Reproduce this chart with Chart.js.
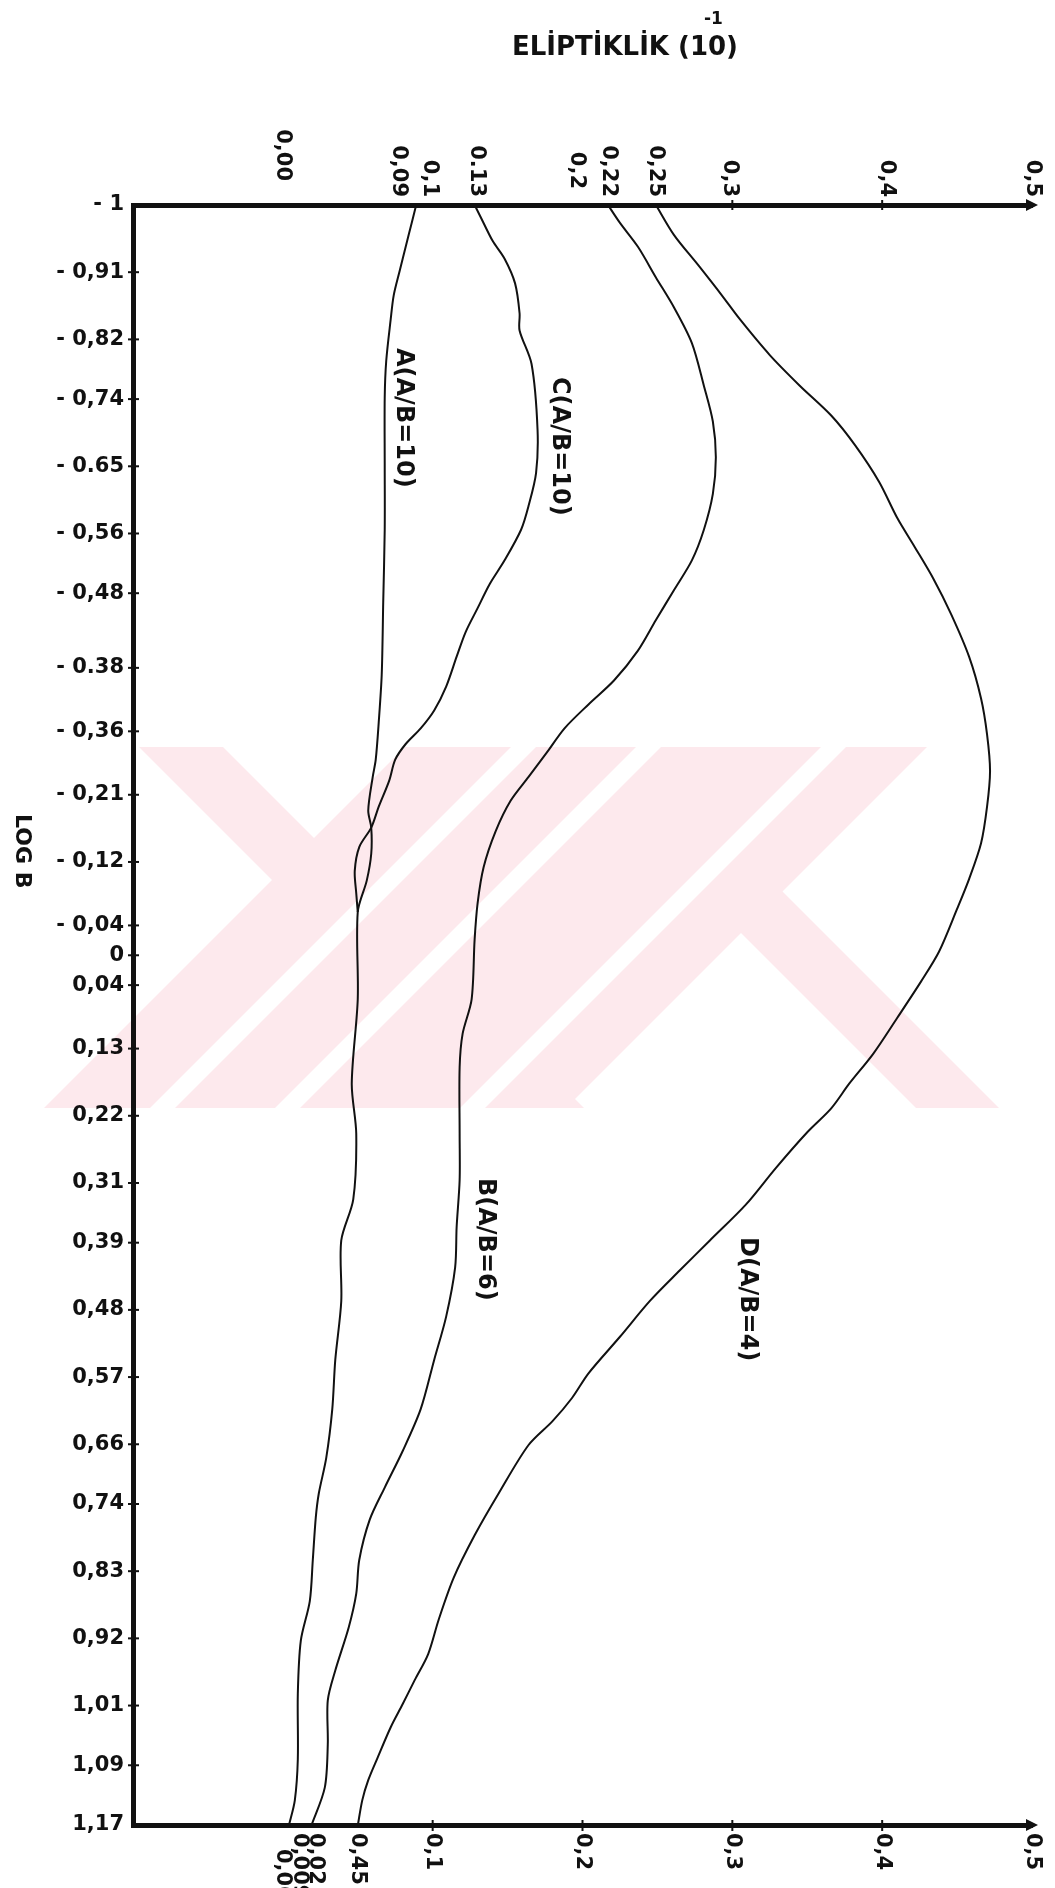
<!DOCTYPE html>
<html>
<head>
<meta charset="utf-8">
<script src="https://cdn.jsdelivr.net/npm/chart.js@4.4.0/dist/chart.umd.min.js"></script>
<style>
    html, body { margin: 0; padding: 0; background: #fff; }
</style>
</head>
<body>
<canvas id="elipChart" width="1055" height="1888"></canvas>
<script>
const logBTicks = [-1, -0.91, -0.82, -0.74, -0.65, -0.56, -0.48, -0.38, -0.295, -0.21, -0.12, -0.035, 0.005, 0.045,
    0.13, 0.22, 0.31, 0.39, 0.48, 0.57, 0.66, 0.74, 0.83, 0.92, 1.01, 1.09, 1.17];
const logBLabels = ['- 1', '- 0,91', '- 0,82', '- 0,74', '- 0.65', '- 0,56', '- 0,48', '- 0.38', '- 0,36', '- 0,21', '- 0,12', '- 0,04', '0', '0,04',
    '0,13', '0,22', '0,31', '0,39', '0,48', '0,57', '0,66', '0,74', '0,83', '0,92', '1,01', '1,09', '1,17'];

// ellipticity axis (top and bottom)
const topTicks = [0, 0.077, 0.098, 0.129, 0.196, 0.217, 0.249, 0.298, 0.403, 0.5];
const topLabels = ['0,00', '0,09', '0,1', '0.13', '0,2', '0,22', '0,25', '0,3', '0,4', '0,5'];
const bottomTicks = [0, 0.011, 0.022, 0.05, 0.1, 0.2, 0.3, 0.4, 0.5];
const bottomLabels = ['0,00', '0,009', '0,02', '0,45', '0,1', '0,2', '0,3', '0,4', '0,5'];

// curve A (A/B=10)
const aLogB = [-1.0, -0.976, -0.944, -0.912, -0.879, -0.847, -0.791, -0.742, -0.653, -0.565, -0.468, -0.371, -0.307, -0.257,
    -0.234, -0.189, -0.166, -0.131, -0.095, -0.053, 0.064, 0.177, 0.244, 0.332, 0.387, 0.468, 0.547, 0.613, 0.678, 0.726,
    0.758, 0.815, 0.870, 0.923, 0.994, 1.082, 1.137, 1.171];
const aElip = [0.089, 0.086, 0.082, 0.078, 0.074, 0.072, 0.069, 0.068, 0.068, 0.068, 0.067, 0.066, 0.064, 0.062,
    0.060, 0.057, 0.059, 0.059, 0.056, 0.050, 0.050, 0.046, 0.049, 0.047, 0.039, 0.039, 0.035, 0.033, 0.029, 0.024,
    0.022, 0.020, 0.018, 0.012, 0.010, 0.010, 0.008, 0.004];

// curve C (A/B=10), joins A near log B = -0.05
const cLogB = [-1.0, -0.984, -0.952, -0.928, -0.895, -0.855, -0.832, -0.787, -0.699, -0.641, -0.597, -0.565, -0.524, -0.492,
    -0.460, -0.428, -0.395, -0.355, -0.323, -0.299, -0.278, -0.257, -0.229, -0.194, -0.166, -0.140, -0.108, -0.078, -0.053];
const cElip = [0.128, 0.132, 0.140, 0.148, 0.155, 0.158, 0.158, 0.166, 0.170, 0.169, 0.164, 0.159, 0.148, 0.138,
    0.130, 0.122, 0.116, 0.109, 0.101, 0.092, 0.082, 0.075, 0.071, 0.064, 0.059, 0.051, 0.048, 0.049, 0.050];

// curve B (A/B=6)
const bLogB = [-1.0, -0.976, -0.944, -0.903, -0.863, -0.815, -0.758, -0.710, -0.662, -0.613, -0.565, -0.524, -0.484, -0.444,
    -0.403, -0.363, -0.331, -0.299, -0.266, -0.234, -0.202, -0.161, -0.113, -0.065, -0.016, 0.064, 0.110, 0.155, 0.244,
    0.306, 0.369, 0.423, 0.489, 0.547, 0.613, 0.669, 0.718, 0.761, 0.815, 0.860, 0.905, 0.963, 1.003, 1.062, 1.120, 1.171];
const bElip = [0.217, 0.225, 0.237, 0.249, 0.261, 0.273, 0.281, 0.287, 0.289, 0.287, 0.281, 0.273, 0.261, 0.249,
    0.237, 0.221, 0.204, 0.188, 0.176, 0.164, 0.152, 0.142, 0.134, 0.130, 0.128, 0.126, 0.120, 0.118, 0.118,
    0.118, 0.116, 0.115, 0.109, 0.101, 0.092, 0.080, 0.068, 0.058, 0.051, 0.049, 0.044, 0.035, 0.030, 0.030, 0.028, 0.019];

// curve D (A/B=4)
const dLogB = [-1.0, -0.960, -0.920, -0.879, -0.847, -0.799, -0.758, -0.718, -0.678, -0.629, -0.581, -0.541, -0.500, -0.452,
    -0.395, -0.339, -0.291, -0.242, -0.194, -0.145, -0.097, -0.057, 0.0, 0.040, 0.089, 0.137, 0.177, 0.210, 0.242, 0.290,
    0.339, 0.387, 0.427, 0.468, 0.516, 0.565, 0.598, 0.629, 0.661, 0.726, 0.782, 0.839, 0.895, 0.941, 0.976, 1.008,
    1.039, 1.081, 1.110, 1.137, 1.171];
const dElip = [0.249, 0.261, 0.277, 0.293, 0.305, 0.325, 0.345, 0.366, 0.382, 0.398, 0.410, 0.422, 0.434, 0.446,
    0.458, 0.466, 0.470, 0.472, 0.470, 0.466, 0.458, 0.450, 0.438, 0.426, 0.410, 0.394, 0.378, 0.366, 0.350, 0.329,
    0.309, 0.285, 0.265, 0.245, 0.225, 0.204, 0.193, 0.180, 0.164, 0.144, 0.128, 0.114, 0.104, 0.097, 0.088, 0.080,
    0.072, 0.063, 0.057, 0.053, 0.050];

const curveLabels = ['A(A/B=10)', 'C(A/B=10)', 'B(A/B=6)', 'D(A/B=4)'];

const INK = '#111';
const FONT = '"DejaVu Sans", sans-serif';

function toPoints(elip, logB) {
    return elip.map((e, i) => ({ x: e, y: logB[i] }));
}

function curve(label, elip, logB) {
    return {
        label: label,
        data: toPoints(elip, logB),
        showLine: true,
        borderColor: INK,
        borderWidth: 2,
        pointRadius: 0,
        tension: 0.3,
        fill: false
    };
}

// rotated (clockwise) text helper
function vText(ctx, text, x, y, align) {
    ctx.save();
    ctx.translate(x, y);
    ctx.rotate(Math.PI / 2);
    ctx.textAlign = align;
    ctx.textBaseline = 'middle';
    ctx.fillText(text, 0, 0);
    ctx.restore();
}

// faint pink watermark behind the figure (diagonal bands, 45 degrees)
function band(ctx, x0, x1, dir, y0, y1) {
    const shift = dir * (y1 - y0);
    ctx.beginPath();
    ctx.moveTo(x0, y0);
    ctx.lineTo(x1, y0);
    ctx.lineTo(x1 + shift, y1);
    ctx.lineTo(x0 + shift, y1);
    ctx.closePath();
    ctx.fill();
}

function drawWatermark(ctx) {
    const y0 = 747, y1 = 1108;
    ctx.save();
    ctx.fillStyle = '#fde9ed';
    band(ctx, 405, 927, -1, y0, y1);
    band(ctx, 139, 223, 1, y0, y1);
    band(ctx, 555, 638, 1, y0, y1);
    ctx.fillStyle = '#ffffff';
    band(ctx, 511, 536, -1, y0, y1);
    band(ctx, 636, 661, -1, y0, y1);
    band(ctx, 821, 846, -1, y0, y1);
    ctx.restore();
}

const figurePlugin = {
    id: 'figure',
    beforeDraw(chart) {
        drawWatermark(chart.ctx);
    },
    afterDraw(chart) {
        const ctx = chart.ctx;
        const area = chart.chartArea;
        const xs = chart.scales.x;
        const ys = chart.scales.y;
        ctx.save();
        ctx.fillStyle = INK;
        ctx.strokeStyle = INK;

        // title
        ctx.font = 'bold 26px ' + FONT;
        ctx.textAlign = 'left';
        ctx.textBaseline = 'alphabetic';
        ctx.fillText('ELİPTİKLİK (10)', 512, 55);
        ctx.font = 'bold 17px ' + FONT;
        ctx.fillText('-1', 704, 24);

        // y axis title
        ctx.font = 'bold 22px ' + FONT;
        vText(ctx, 'LOG B', 22, 814, 'left');

        // left ticks
        ctx.font = 'bold 21px ' + FONT;
        ctx.lineWidth = 2;
        logBTicks.forEach((v, i) => {
            const py = ys.getPixelForValue(v);
            if (i > 0 && i < logBTicks.length - 1) {
                ctx.beginPath();
                ctx.moveTo(area.left - 5, py);
                ctx.lineTo(area.left + 6, py);
                ctx.stroke();
            }
            ctx.textAlign = 'right';
            ctx.textBaseline = 'middle';
            ctx.fillText(logBLabels[i], area.left - 9, py);
        });

        // top labels
        topTicks.forEach((v, i) => {
            const px = xs.getPixelForValue(v);
            let end = area.top - 8;
            if (topLabels[i] === '0,00') end = area.top - 24;
            if (topLabels[i] === '0,2') end = area.top - 16;
            vText(ctx, topLabels[i], px, end, 'right');
        });
        [0.3, 0.4].forEach(v => {
            const px = xs.getPixelForValue(v);
            ctx.beginPath();
            ctx.moveTo(px, area.top - 5);
            ctx.lineTo(px, area.top + 5);
            ctx.stroke();
        });

        // bottom labels
        bottomTicks.forEach((v, i) => {
            const px = xs.getPixelForValue(v);
            let start = area.bottom + 8;
            if (bottomLabels[i] === '0,00') start = area.bottom + 24;
            vText(ctx, bottomLabels[i], px, start, 'left');
        });
        [0.1, 0.2, 0.3, 0.4].forEach(v => {
            const px = xs.getPixelForValue(v);
            ctx.beginPath();
            ctx.moveTo(px, area.bottom - 5);
            ctx.lineTo(px, area.bottom + 6);
            ctx.stroke();
        });

        // arrow heads at 0,5
        [area.top, area.bottom].forEach(py => {
            const px = xs.getPixelForValue(0.5);
            ctx.beginPath();
            ctx.moveTo(px + 6, py);
            ctx.lineTo(px - 6, py - 6);
            ctx.lineTo(px - 6, py + 6);
            ctx.closePath();
            ctx.fill();
        });

        // curve labels
        ctx.font = 'bold 24px ' + FONT;
        vText(ctx, curveLabels[0], 403, 348, 'left');
        vText(ctx, curveLabels[1], 559, 377, 'left');
        vText(ctx, curveLabels[2], 485, 1178, 'left');
        vText(ctx, curveLabels[3], 747, 1237, 'left');
        ctx.restore();
    }
};

const axisBorder = { display: true, width: 5, color: INK };
const noGrid = { display: false, drawTicks: false };

new Chart(document.getElementById('elipChart'), {
    type: 'scatter',
    data: {
        datasets: [
            curve('A', aElip, aLogB),
            curve('C', cElip, cLogB),
            curve('B', bElip, bLogB),
            curve('D', dElip, dLogB)
        ]
    },
    options: {
        responsive: false,
        animation: false,
        devicePixelRatio: 1,
        layout: { padding: { left: 133, top: 205, right: 23, bottom: 63 } },
        plugins: {
            legend: { display: false },
            tooltip: { enabled: false },
            title: { display: false }
        },
        scales: {
            x: {
                type: 'linear', position: 'top', min: -0.1, max: 0.5,
                ticks: { display: false }, grid: noGrid, border: axisBorder
            },
            x2: {
                type: 'linear', position: 'bottom', min: -0.1, max: 0.5,
                ticks: { display: false }, grid: noGrid, border: axisBorder
            },
            y: {
                type: 'linear', position: 'left', reverse: true, min: -1, max: 1.17,
                ticks: { display: false }, grid: noGrid, border: axisBorder
            }
        }
    },
    plugins: [figurePlugin]
});
</script>
</body>
</html>
